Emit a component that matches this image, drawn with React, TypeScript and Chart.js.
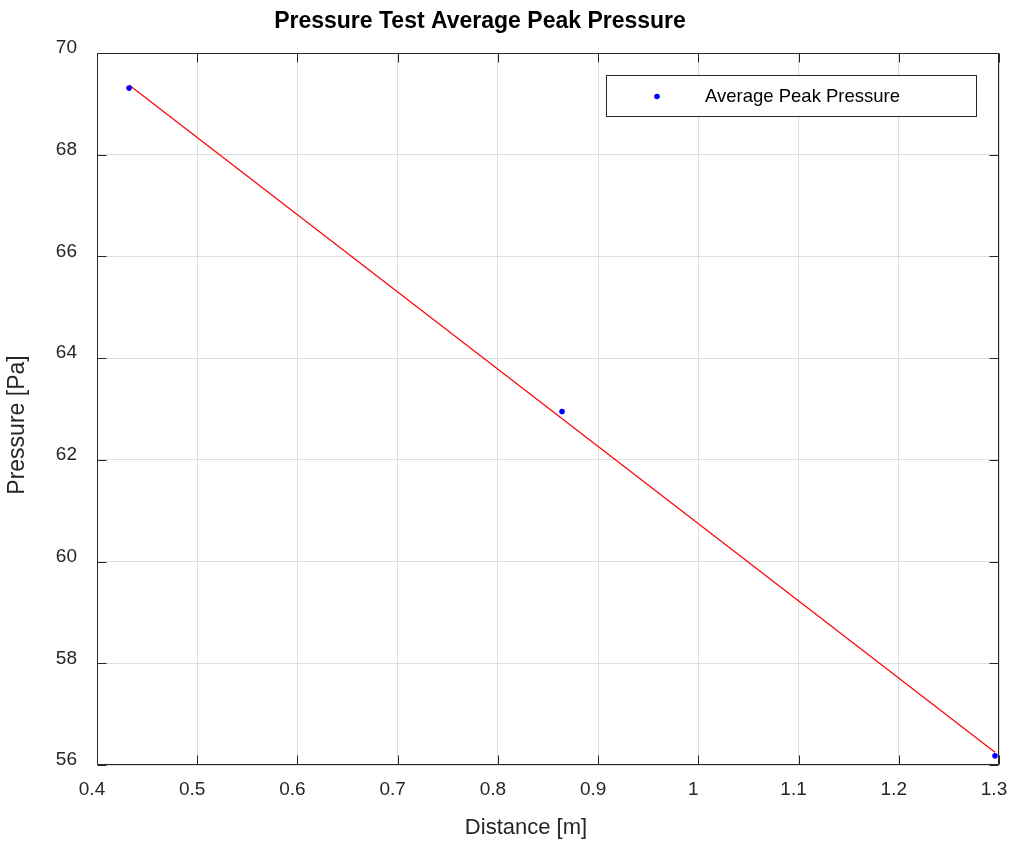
import React, { useEffect, useRef } from "react";
import { Chart, registerables } from "chart.js";

Chart.register(...registerables);

// ---- Data ----
const distances = [0.432, 0.864, 1.296];
const pressures = [69.31, 62.95, 56.18];
const fitDistances = [0.432, 1.296];
const fitPressures = [69.37, 56.25];

const xTicks = [0.4, 0.5, 0.6, 0.7, 0.8, 0.9, 1.0, 1.1, 1.2, 1.3];
const xTickLabels = ["0.4", "0.5", "0.6", "0.7", "0.8", "0.9", "1", "1.1", "1.2", "1.3"];
const yTicks = [56, 58, 60, 62, 64, 66, 68, 70];
const yTickLabels = ["56", "58", "60", "62", "64", "66", "68", "70"];

const chartTitle = "Pressure Test Average Peak Pressure";
const xTitle = "Distance [m]";
const yTitle = "Pressure [Pa]";
const seriesLabel = "Average Peak Pressure";

const FONT = "'Liberation Sans', Arial, Helvetica, sans-serif";
const AXIS_COLOR = "#262626";

const framePlugin = {
  id: "matlabFrame",
  afterDraw(chart: any) {
    const { ctx, chartArea } = chart;
    const { left, right, top, bottom } = chartArea;
    const xs = chart.scales.x;
    const ys = chart.scales.y;
    const tickLen = 9;
    ctx.save();
    ctx.strokeStyle = AXIS_COLOR;
    ctx.lineWidth = 1;
    const L = Math.round(left) + 0.5;
    const R = Math.round(right) - 0.5;
    const T = Math.round(top) + 0.5;
    const B = Math.round(bottom) - 0.5;
    ctx.beginPath();
    ctx.rect(L, T, R - L, B - T);
    ctx.stroke();
    // inward ticks
    ctx.beginPath();
    xs.ticks.forEach((t: any) => {
      const px = Math.round(xs.getPixelForValue(t.value)) + 0.5;
      ctx.moveTo(px, B);
      ctx.lineTo(px, B - tickLen);
      ctx.moveTo(px, T);
      ctx.lineTo(px, T + tickLen);
    });
    ys.ticks.forEach((t: any) => {
      const py = Math.round(ys.getPixelForValue(t.value)) + 0.5;
      ctx.moveTo(L, py);
      ctx.lineTo(L + tickLen, py);
      ctx.moveTo(R, py);
      ctx.lineTo(R - tickLen, py);
    });
    ctx.stroke();

    // title
    ctx.fillStyle = "#000";
    ctx.textAlign = "center";
    ctx.textBaseline = "alphabetic";
    ctx.font = `bold 23px ${FONT}`;
    ctx.fillText(chartTitle, 480, 28);

    // axis titles
    ctx.fillStyle = AXIS_COLOR;
    ctx.font = `22px ${FONT}`;
    ctx.fillText(xTitle, 526, 834);
    ctx.save();
    ctx.translate(24, 425);
    ctx.rotate(-Math.PI / 2);
    ctx.font = `23px ${FONT}`;
    ctx.fillText(yTitle, 0, 0);
    ctx.restore();

    // legend
    const ds = chart.data.datasets[0];
    const lx = 606.5, ly = 75.5, lw = 370, lh = 41;
    ctx.fillStyle = "#fff";
    ctx.fillRect(lx, ly, lw, lh);
    ctx.strokeStyle = AXIS_COLOR;
    ctx.strokeRect(lx, ly, lw, lh);
    ctx.fillStyle = ds.pointBackgroundColor;
    ctx.beginPath();
    ctx.arc(657, 96.5, 2.8, 0, Math.PI * 2);
    ctx.fill();
    ctx.fillStyle = "#000";
    ctx.textAlign = "left";
    ctx.font = `18.5px ${FONT}`;
    ctx.fillText(ds.label, 705, 102);
    ctx.restore();
  },
};

export default function App() {
  const canvasRef = useRef<HTMLCanvasElement | null>(null);

  useEffect(() => {
    if (!canvasRef.current) return;
    const chart = new Chart(canvasRef.current, {
      type: "scatter",
      data: {
        datasets: [
          {
            label: seriesLabel,
            data: distances.map((x, i) => ({ x, y: pressures[i] })),
            pointBackgroundColor: "#0000ff",
            pointBorderColor: "#0000ff",
            pointRadius: 2.8,
            pointBorderWidth: 0,
            showLine: false,
          },
          {
            label: "Fit",
            data: fitDistances.map((x, i) => ({ x, y: fitPressures[i] })),
            borderColor: "#ff0000",
            backgroundColor: "#ff0000",
            borderWidth: 1.2,
            pointRadius: 0,
            showLine: true,
          },
        ],
      },
      options: {
        responsive: false,
        animation: false,
        devicePixelRatio: 1,
        layout: { padding: { top: 53, right: 13, left: 0, bottom: 0 } },
        plugins: {
          legend: { display: false },
          title: { display: false },
          tooltip: { enabled: false },
        },
        scales: {
          x: {
            type: "linear",
            min: 0.4,
            max: 1.3,
            afterBuildTicks: (s: any) => {
              s.ticks = xTicks.map((v) => ({ value: v }));
            },
            afterFit: (s: any) => {
              s.height = 77;
              s.paddingLeft = 0;
              s.paddingRight = 0;
            },
            ticks: {
              callback: (_v: any, i: number) => xTickLabels[i],
              font: { family: FONT, size: 19 },
              color: AXIS_COLOR,
              padding: 13,
              labelOffset: -5,
              maxRotation: 0,
              autoSkip: false,
            },
            grid: { color: "#dedede", drawTicks: false, lineWidth: 1 },
            border: { display: false },
          },
          y: {
            type: "linear",
            min: 56,
            max: 70,
            afterBuildTicks: (s: any) => {
              s.ticks = yTicks.map((v) => ({ value: v }));
            },
            afterFit: (s: any) => {
              s.width = 97;
              s.paddingTop = 0;
              s.paddingBottom = 0;
            },
            ticks: {
              callback: (_v: any, i: number) => yTickLabels[i],
              font: { family: FONT, size: 19 },
              color: AXIS_COLOR,
              padding: 20,
              labelOffset: -5,
              autoSkip: false,
            },
            grid: { color: "#dedede", drawTicks: false, lineWidth: 1 },
            border: { display: false },
          },
        },
      },
      plugins: [framePlugin],
    });
    return () => chart.destroy();
  }, []);

  return (
    <div style={{ position: "fixed", left: 0, top: 0, width: 1012, height: 842, background: "#fff" }}>
      <canvas ref={canvasRef} width={1012} height={842} style={{ display: "block" }} />
    </div>
  );
}
